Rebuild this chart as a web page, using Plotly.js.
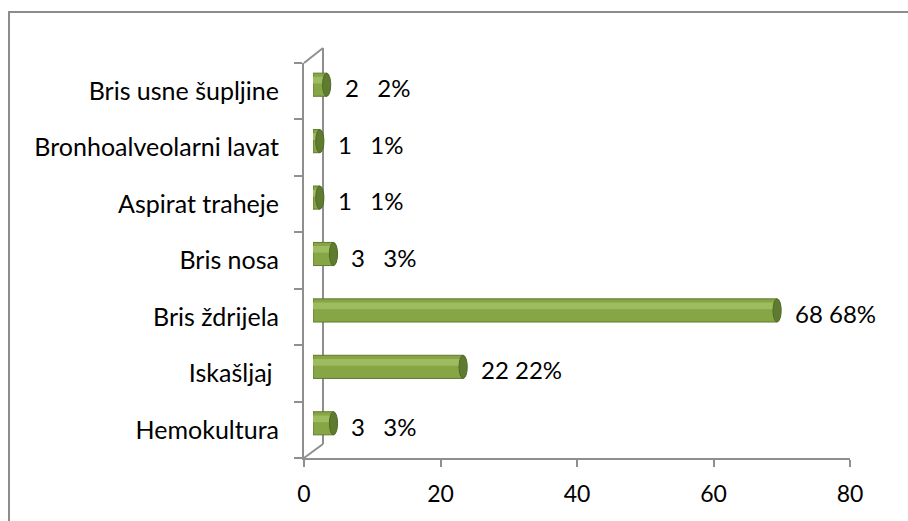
<!DOCTYPE html>
<html><head><meta charset="utf-8">
<script src="https://cdn.plot.ly/plotly-3.0.1.min.js"></script>
<style>html,body{margin:0;padding:0;background:#fff}#c{width:908px;height:521px}</style>
</head><body><div id="c"></div>
<script>
// data, bottom to top
const categories = ["Hemokultura", "Iskašljaj\u00a0", "Bris ždrijela", "Bris nosa", "Aspirat traheje", "Bronhoalveolarni lavat", "Bris usne šupljine"];
const counts = [3, 22, 68, 3, 1, 1, 2];
const percents = [3, 22, 68, 3, 1, 1, 2];
const xTicks = [0, 20, 40, 60, 80];

const W = 908, H = 521;
const px = v => v / W, py = v => 1 - v / H;
const grey = "#8f8f8f";
const font = "Lato, 'Open Sans', sans-serif";

const labels = counts.map((c, i) => c + (c < 10 ? "\u00a0\u00a0 " : "\u00a0") + percents[i] + "%");

const traces = [
  {type: "bar", orientation: "h", x: counts, y: categories, xaxis: "x", yaxis: "y",
   width: 0.41, marker: {color: "#86a545", line: {color: "#5f7b2c", width: 1}}, hoverinfo: "skip"},
  {type: "bar", orientation: "h", x: counts, y: categories, xaxis: "x", yaxis: "y",
   width: 0.12, offset: 0.02, marker: {color: "#9dbb5f"}, hoverinfo: "skip"},
  {type: "scatter", mode: "markers", x: counts, y: categories, xaxis: "x2", yaxis: "y2",
   marker: {opacity: 0}, hoverinfo: "skip"}
];

const shapes = [];
counts.forEach((c, i) => {
  shapes.push({type: "circle", xref: "x", yref: "y", x0: c - 0.6, x1: c + 0.6,
    y0: i - 0.205, y1: i + 0.205, fillcolor: "#5f7b30", line: {color: "#4f6a25", width: 1}});
});
const L = (x0, y0, x1, y1, w) => ({type: "line", xref: "paper", yref: "paper",
  x0: px(x0), y0: py(y0), x1: px(x1), y1: py(y1), line: {color: grey, width: w || 2}, layer: "below"});
shapes.push(L(323, 48, 323, 444));
shapes.push(L(304, 63, 323, 48));
shapes.push(L(304, 458, 323, 444));
shapes.push({type: "rect", xref: "paper", yref: "paper", x0: px(9), y0: py(12), x1: px(930), y1: py(540),
  line: {color: "#8c8c8c", width: 2}, layer: "below"});

const annotations = counts.map((c, i) => ({xref: "x", yref: "y", x: c, y: categories[i],
  text: labels[i], showarrow: false, xanchor: "left", xshift: 16, yshift: -3,
  font: {family: font, size: 24, color: "#000"}}));

const layout = {
  width: W, height: H, margin: {l: 0, r: 0, t: 0, b: 0},
  paper_bgcolor: "#fff", plot_bgcolor: "rgba(0,0,0,0)",
  showlegend: false, barmode: "overlay",
  font: {family: font, size: 23, color: "#000"},
  xaxis: {domain: [px(313), px(859)], range: [0, 80], visible: false, fixedrange: true},
  yaxis: {domain: [py(451.5), py(56.5)], type: "category", categoryorder: "array", categoryarray: categories,
    range: [-0.5, 6.5], visible: false, fixedrange: true},
  xaxis2: {domain: [px(304), px(850)], anchor: "y2", range: [0, 80], tickvals: xTicks,
    showline: true, linecolor: grey, linewidth: 2, ticks: "outside", ticklen: 7, tickwidth: 2, tickcolor: grey,
    showgrid: false, zeroline: false, ticklabelstandoff: 7, tickfont: {family: font, size: 23}},
  yaxis2: {domain: [py(458), py(63)], anchor: "x2", type: "category", categoryorder: "array", categoryarray: categories,
    range: [-0.5, 6.5], showline: true, linecolor: grey, linewidth: 2, ticks: "outside", ticklen: 8, tickwidth: 2,
    tickcolor: grey, tickson: "boundaries", showgrid: false, ticklabelstandoff: 18, tickfont: {family: font, size: 25}},
  shapes: shapes, annotations: annotations
};
Plotly.newPlot("c", traces, layout, {staticPlot: true});
</script></body></html>
